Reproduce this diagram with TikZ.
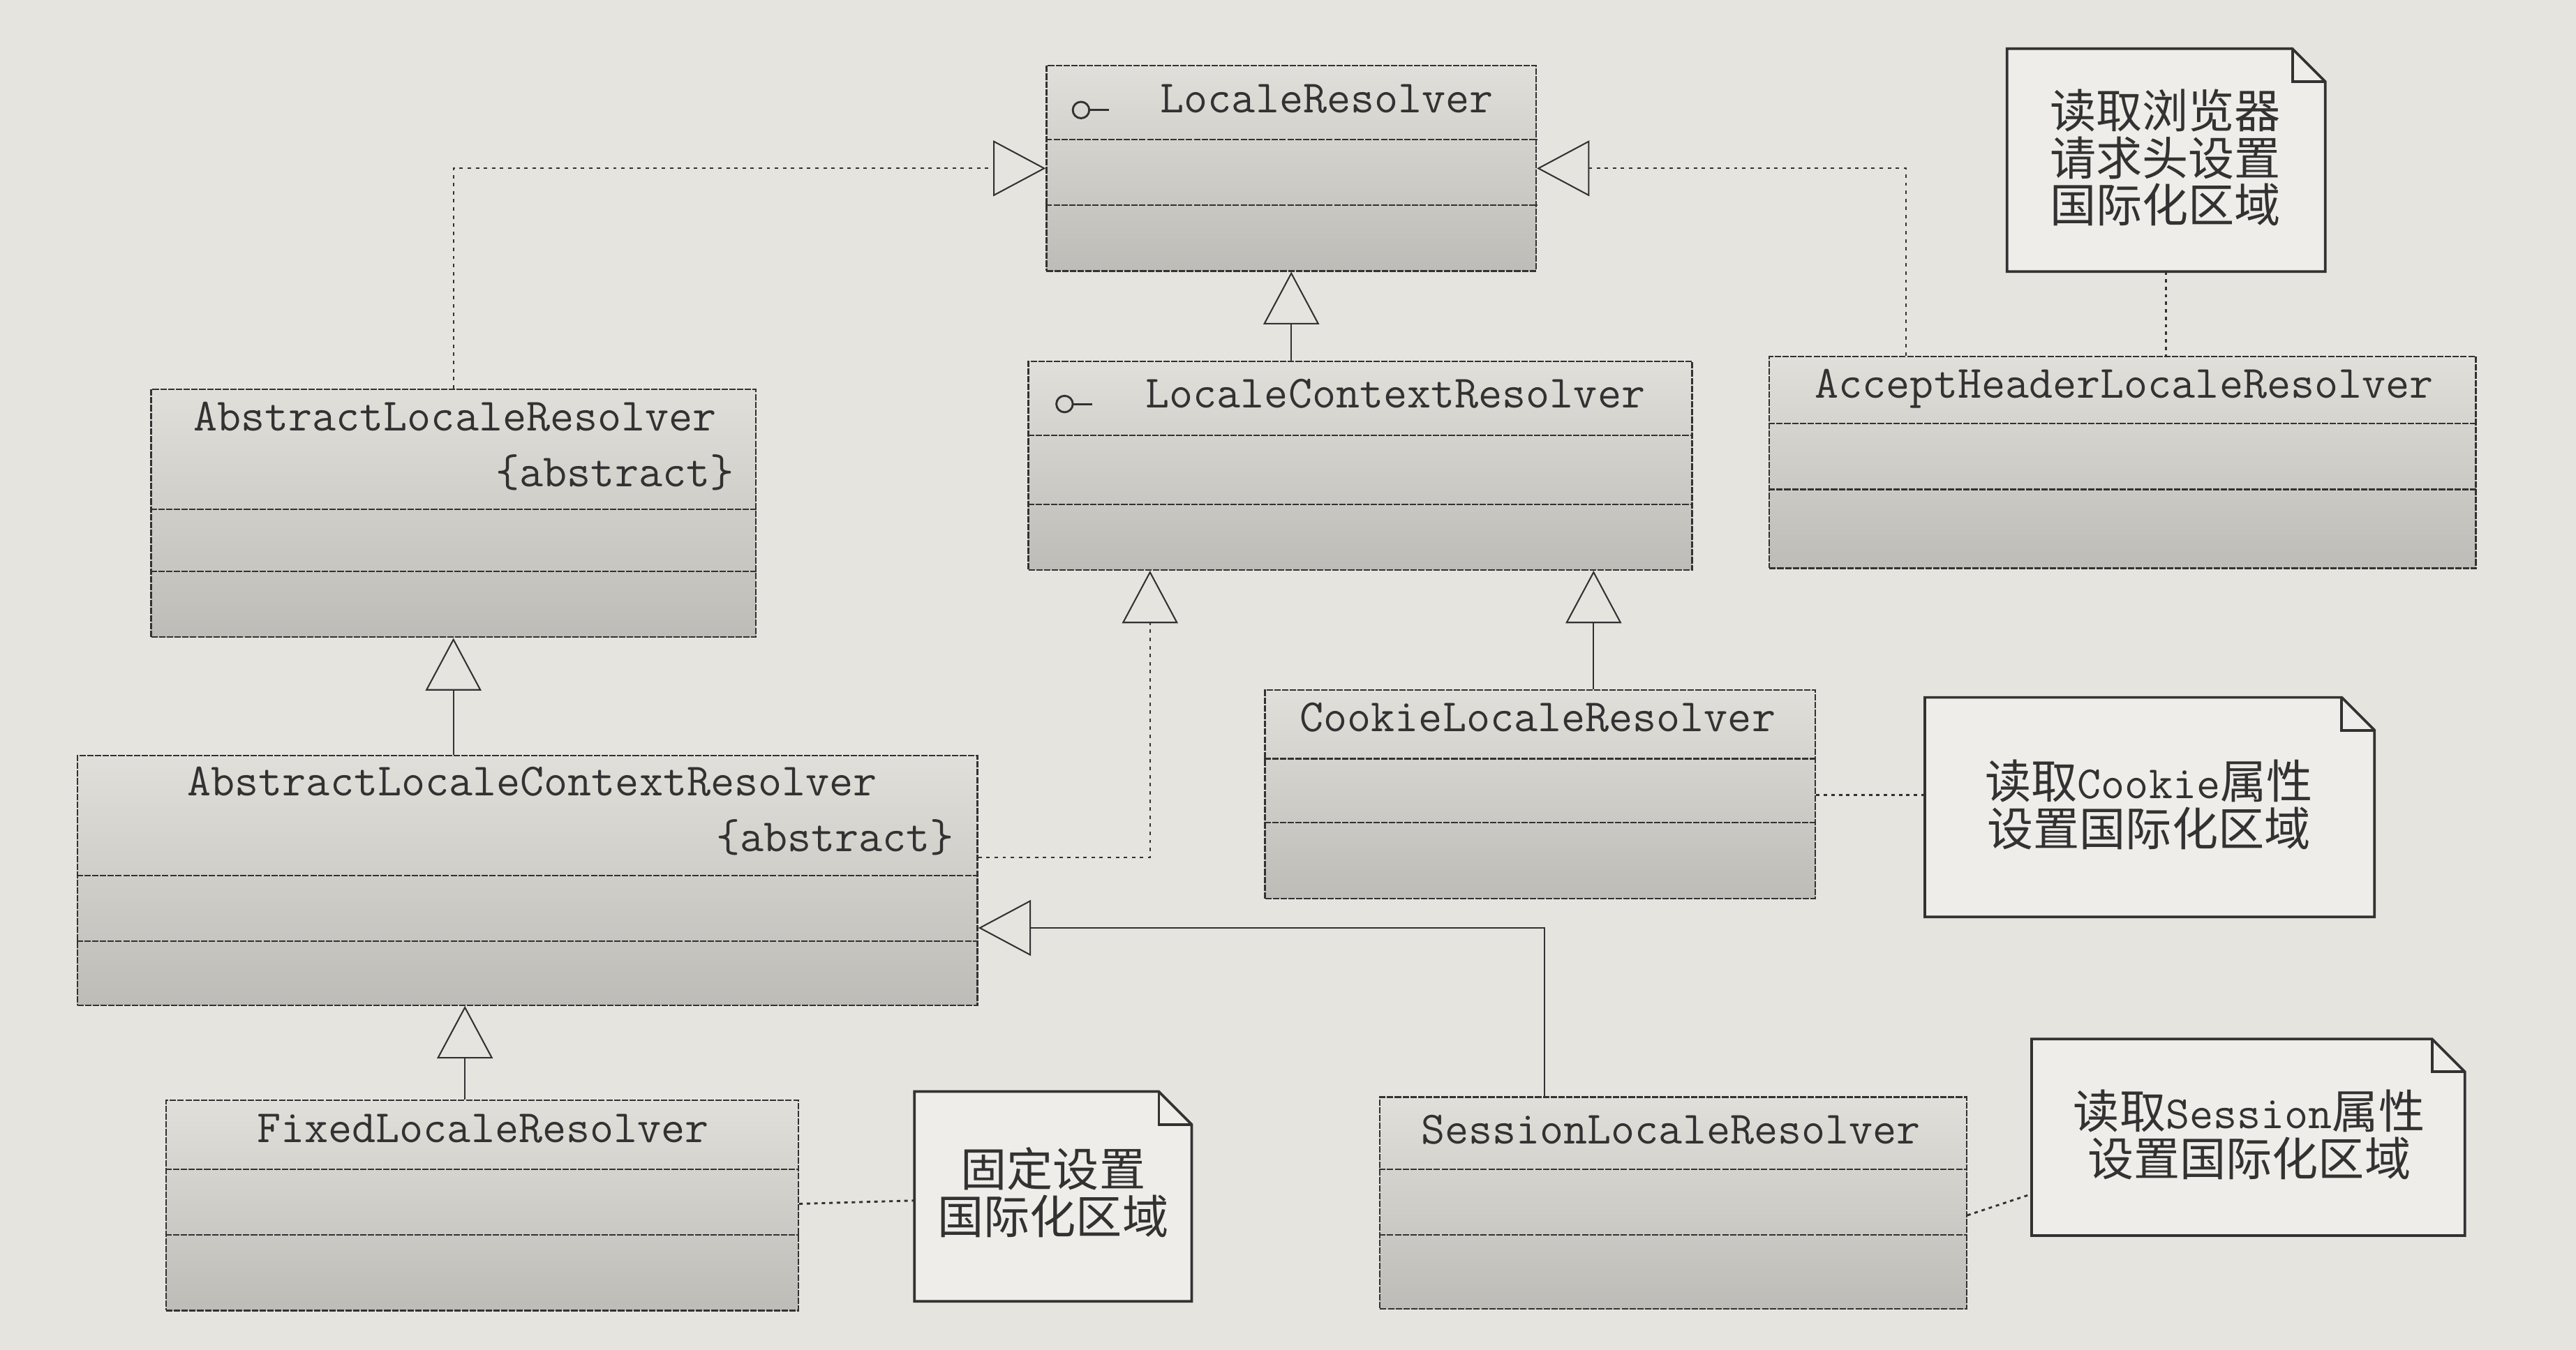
\documentclass[tikz,border=0pt]{standalone}
\usepackage{fontspec}
\newfontfamily\cjk{Noto Sans CJK SC}
\usetikzlibrary{arrows.meta,fit}
\definecolor{paper}{RGB}{229,228,223}
\definecolor{notefill}{RGB}{238,237,233}
\definecolor{boxtop}{RGB}{224,223,218}
\definecolor{boxbot}{RGB}{190,188,182}
\definecolor{ink}{RGB}{50,50,50}
\begin{document}
\begin{tikzpicture}[x=0.02cm,y=-0.02cm,
  cls/.style={draw=ink, line width=0.55pt, dash pattern=on 2.2pt off 0.5pt, inner sep=0pt, top color=boxtop, bottom color=boxbot},
  divline/.style={ink, line width=0.55pt, dash pattern=on 2.2pt off 0.5pt},
  note/.style={inner sep=0pt},
  notebd/.style={ink, line width=0.9pt},
  clsname/.style={font=\ttfamily\fontsize{16}{17}\selectfont, text=ink, inner sep=0pt, text height=0.62em, text depth=0pt},
  notetxt/.style={font=\cjk\fontsize{16}{16.3}\selectfont, text=ink, align=center, inner sep=0pt},
  gen/.style={ink, line width=0.5pt, -{Triangle[open,length=0.64cm,width=0.68cm]}},
  real/.style={gen, dash pattern=on 1.2pt off 1.6pt},
  link/.style={ink, line width=0.7pt, dash pattern=on 1.2pt off 1.4pt}]
\path[use as bounding box, fill=paper] (0,0) rectangle (1568,822);
\node[cls, fit={(637,40) (935,165)}] (lr) {};
\node[cls, fit={(626,220) (1030,347)}] (lcr) {};
\node[cls, fit={(1077,217) (1507,346)}] (ah) {};
\node[cls, fit={(92,237) (460,388)}] (alr) {};
\node[cls, fit={(47,460) (595,612)}] (alcr) {};
\node[cls, fit={(770,420) (1105,547)}] (ck) {};
\node[cls, fit={(101,670) (486,798)}] (fx) {};
\node[cls, fit={(840,668) (1197,797)}] (ss) {};
\draw[divline] (lr.west |- 0,85) -- (lr.east |- 0,85);
\draw[divline] (lr.west |- 0,125) -- (lr.east |- 0,125);
\draw[divline] (lcr.west |- 0,265) -- (lcr.east |- 0,265);
\draw[divline] (lcr.west |- 0,307) -- (lcr.east |- 0,307);
\draw[divline] (ah.west |- 0,258) -- (ah.east |- 0,258);
\draw[divline] (ah.west |- 0,298) -- (ah.east |- 0,298);
\draw[divline] (alr.west |- 0,310) -- (alr.east |- 0,310);
\draw[divline] (alr.west |- 0,348) -- (alr.east |- 0,348);
\draw[divline] (alcr.west |- 0,533) -- (alcr.east |- 0,533);
\draw[divline] (alcr.west |- 0,573) -- (alcr.east |- 0,573);
\draw[divline] (ck.west |- 0,462) -- (ck.east |- 0,462);
\draw[divline] (ck.west |- 0,501) -- (ck.east |- 0,501);
\draw[divline] (fx.west |- 0,712) -- (fx.east |- 0,712);
\draw[divline] (fx.west |- 0,752) -- (fx.east |- 0,752);
\draw[divline] (ss.west |- 0,712) -- (ss.east |- 0,712);
\draw[divline] (ss.west |- 0,752) -- (ss.east |- 0,752);
\draw[ink, line width=0.7pt] (658,67) circle[radius=0.1cm];
\draw[ink, line width=0.7pt] (663,67) -- (675,67);
\draw[ink, line width=0.7pt] (648,246) circle[radius=0.1cm];
\draw[ink, line width=0.7pt] (653,246) -- (665,246);
\node[clsname, anchor=west] (lr-t) at (706,63) {LocaleResolver};
\node[clsname, anchor=west] (lcr-t) at (697,243) {LocaleContextResolver};
\node[clsname] (ah-t) at (1293,237) {AcceptHeaderLocaleResolver};
\node[clsname] (alr-t) at (277,257) {AbstractLocaleResolver};
\node[clsname, anchor=east] (alr-a) at (447,291) {\{abstract\}};
\node[clsname] (alcr-t) at (324,479) {AbstractLocaleContextResolver};
\node[clsname, anchor=east] (alcr-a) at (581,513) {\{abstract\}};
\node[clsname] (ck-t) at (936,440) {CookieLocaleResolver};
\node[clsname] (fx-t) at (294,690) {FixedLocaleResolver};
\node[clsname] (ss-t) at (1017,691) {SessionLocaleResolver};
\node[note, fit={(1222,30) (1415,165)}] (n-hdr) {};
\node[note, fit={(1172,425) (1445,558)}] (n-ck) {};
\node[note, fit={(557,665) (725,792)}] (n-fx) {};
\node[note, fit={(1237,633) (1500,752)}] (n-ss) {};
\foreach \n in {n-hdr,n-ck,n-fx,n-ss} {
  \draw[notebd, fill=notefill] (\n.north west) -- ([xshift=-0.4cm]\n.north east) -- ([yshift=-0.4cm]\n.north east) |- (\n.south west) -- cycle;
  \draw[notebd] ([xshift=-0.4cm]\n.north east) |- ([yshift=-0.4cm]\n.north east);
}
\node[notetxt] (t-hdr) at (1318,96) {读取浏览器\\请求头设置\\国际化区域};
\node[notetxt] (t-ck) at (1308,490) {读取{\ttfamily Cookie}属性\\设置国际化区域};
\node[notetxt] (t-fx) at (641,726) {固定设置\\国际化区域};
\node[notetxt] (t-ss) at (1369,691) {读取{\ttfamily Session}属性\\设置国际化区域};
\draw[real] (alr.north) |- (lr.west);
\draw[real] (1160,0 |- ah.north) |- (lr.east);
\draw[gen] (lr.south |- lcr.north) -- (lr.south);
\draw[gen] (alr.south |- alcr.north) -- (alr.south);
\draw[real] (alcr.east |- 0,522) -| (700,0 |- lcr.south);
\draw[gen] (970,0 |- ck.north) -- (970,0 |- lcr.south);
\draw[gen] (940,0 |- ss.north) |- (alcr.east |- 0,565);
\draw[gen] (283,0 |- fx.north) -- (283,0 |- alcr.south);
\draw[link] (n-hdr.south) -- (n-hdr.south |- ah.north);
\draw[link] (ck.east |- 0,484) -- (n-ck.west |- 0,484);
\draw[link] (fx.east |- 0,733) -- (n-fx.west |- 0,731);
\draw[link] (ss.east |- 0,740) -- (n-ss.west |- 0,727);
\end{tikzpicture}
\end{document}
